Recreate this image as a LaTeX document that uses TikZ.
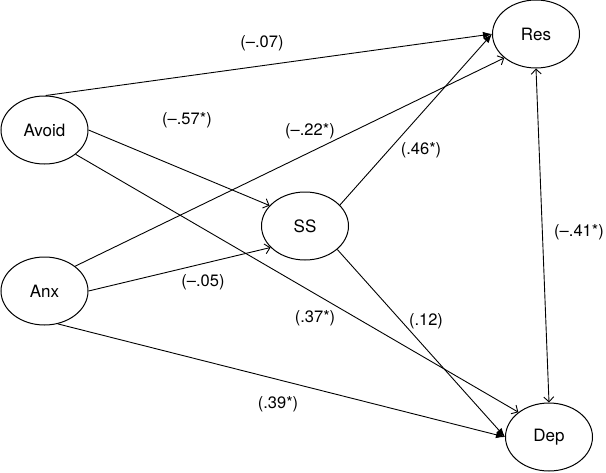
\documentclass[tikz,border=0pt]{standalone}
\usepackage{fontspec}
\setmainfont{TeX Gyre Heros}
\usetikzlibrary{shapes.geometric,arrows.meta}
\begin{document}
\begin{tikzpicture}[x=1pt,y=-1pt,
  var/.style={ellipse,draw,line width=1pt,minimum width=87pt,minimum height=68pt,inner sep=0pt,font=\fontsize{17}{20}\selectfont},
  lab/.style={font=\fontsize{16.5}{19}\selectfont,inner sep=1pt},
  link/.style={line width=0.9pt},
  solidtip/.style={link,-{Latex[length=9pt,width=7pt]}},
  opentip/.style={link,-{Straight Barb[length=5pt,width=10pt]}},
  bothtip/.style={link,{Straight Barb[length=5pt,width=10pt]}-{Straight Barb[length=5pt,width=10pt]}},
]
\useasboundingbox (0,0) rectangle (606,472);
\node[var] (Avoid) at (44.5,130) {Avoid};
\node[var] (Anx) at (44.5,291) {Anx};
\node[var] (SS) at (305,226) {SS};
\node[var] (Res) at (536,34) {Res};
\node[var] (Dep) at (549,437) {Dep};

\draw[solidtip] (Avoid.88) -- (Res.west);
\draw[solidtip] (SS.31) -- (Res.west);
\draw[opentip] (Anx.39) -- (Res.217);
\draw[opentip] (Avoid.east) -- (SS.150);
\draw[opentip] (Anx.east) -- (SS.212);
\draw[opentip] (Avoid.-38) -- (Dep.141);
\draw[solidtip] (SS.-36) -- (Dep.west);
\draw[solidtip] (Anx.-68) -- (Dep.west);
\draw[bothtip] (Res.south) -- (Dep.north);

\node[lab] (l1) at (262,43) {(--.07)};
\node[lab] (l2) at (187,120) {(--.57*)};
\node[lab] (l3) at (310,131) {(--.22*)};
\node[lab] (l4) at (421,150) {(.46*)};
\node[lab] (l5) at (579,232) {(--.41*)};
\node[lab] (l6) at (203,282) {(--.05)};
\node[lab] (l7) at (315,318) {(.37*)};
\node[lab] (l8) at (426,321) {(.12)};
\node[lab] (l9) at (278,404) {(.39*)};
\end{tikzpicture}
\end{document}
